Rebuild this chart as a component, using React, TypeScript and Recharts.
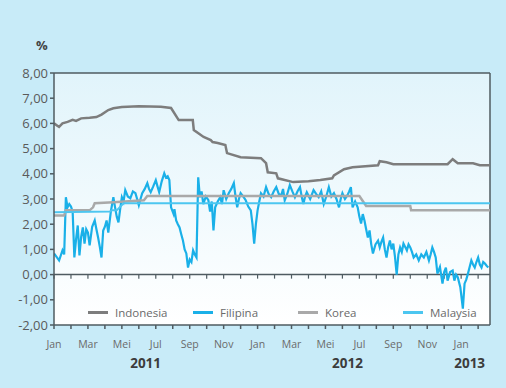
import { CartesianGrid, Legend, Line, LineChart, ReferenceLine, XAxis, YAxis } from "recharts";

// x = months since Jan 2011, y = rate in %
const indonesia: [number, number][] = [
  [0, 6.0], [0.3, 5.86], [0.5, 6.0], [0.8, 6.06], [1.1, 6.14], [1.3, 6.1], [1.6, 6.2], [2.1, 6.22],
  [2.5, 6.25], [2.8, 6.35], [3.2, 6.53], [3.5, 6.6], [4.0, 6.65], [5.0, 6.68], [6.3, 6.66], [6.9, 6.61],
  [7.35, 6.13], [8.18, 6.13], [8.24, 5.74], [8.82, 5.46], [9.24, 5.34], [9.35, 5.26], [9.65, 5.22],
  [10.1, 5.14], [10.2, 4.82], [11.0, 4.66], [12.2, 4.62], [12.5, 4.42], [12.6, 4.06], [13.1, 4.02],
  [13.2, 3.82], [14.1, 3.67], [15.0, 3.7], [15.7, 3.75], [16.4, 3.82], [16.5, 3.94], [17.1, 4.18],
  [17.6, 4.26], [19.1, 4.34], [19.2, 4.5], [19.6, 4.46], [20.0, 4.38], [23.2, 4.38], [23.5, 4.58],
  [23.8, 4.42], [24.7, 4.42], [25.1, 4.34], [25.7, 4.34],
];

const filipina: [number, number][] = [
  [0, 0.84], [0.15, 0.7], [0.3, 0.56], [0.5, 0.96], [0.6, 0.8], [0.7, 3.07], [0.8, 2.67], [0.9, 2.8],
  [1.0, 2.7], [1.1, 2.5], [1.2, 0.68], [1.3, 1.4], [1.4, 1.95], [1.5, 0.76], [1.6, 1.5], [1.7, 1.87],
  [1.8, 1.23], [1.9, 1.8], [2.0, 1.67], [2.1, 1.16], [2.25, 1.9], [2.4, 2.15], [2.5, 1.8], [2.6, 1.47],
  [2.7, 1.1], [2.8, 0.68], [2.9, 1.75], [3.0, 1.9], [3.1, 2.15], [3.2, 1.67], [3.35, 2.5], [3.5, 3.07],
  [3.6, 2.67], [3.7, 2.3], [3.8, 2.07], [3.9, 2.6], [4.0, 3.07], [4.1, 2.9], [4.2, 3.35], [4.35, 3.1],
  [4.5, 3.03], [4.65, 3.3], [4.8, 3.23], [4.9, 3.0], [5.0, 2.75], [5.1, 3.0], [5.2, 3.23], [5.35, 3.4],
  [5.5, 3.63], [5.6, 3.4], [5.7, 3.27], [5.85, 3.5], [6.0, 3.75], [6.1, 3.5], [6.2, 3.27], [6.35, 3.7],
  [6.5, 4.02], [6.6, 3.85], [6.7, 3.9], [6.8, 3.75], [6.9, 2.67], [7.05, 2.4], [7.1, 2.6], [7.2, 2.15],
  [7.3, 2.0], [7.4, 1.87], [7.5, 1.6], [7.6, 1.35], [7.7, 1.0], [7.8, 0.84], [7.9, 0.28], [8.0, 0.6],
  [8.1, 0.5], [8.2, 0.96], [8.3, 0.8], [8.4, 0.68], [8.5, 3.86], [8.6, 3.07], [8.7, 3.3], [8.8, 2.8],
  [8.95, 3.1], [9.1, 2.95], [9.2, 2.5], [9.3, 2.9], [9.4, 1.75], [9.5, 2.67], [9.65, 2.9], [9.8, 3.07],
  [9.9, 2.8], [10.0, 3.35], [10.15, 3.0], [10.3, 3.23], [10.45, 3.4], [10.6, 3.63], [10.7, 3.1],
  [10.8, 2.67], [10.9, 3.0], [11.0, 3.23], [11.15, 3.1], [11.3, 2.95], [11.45, 2.7], [11.6, 2.55],
  [11.7, 2.0], [11.8, 1.23], [11.9, 2.0], [12.0, 2.55], [12.1, 2.9], [12.2, 3.23], [12.35, 3.1],
  [12.5, 3.47], [12.65, 3.2], [12.8, 3.07], [12.95, 3.3], [13.1, 3.47], [13.25, 3.2], [13.4, 3.15],
  [13.5, 3.4], [13.6, 2.95], [13.75, 3.2], [13.9, 3.55], [14.05, 3.3], [14.2, 3.07], [14.35, 3.3],
  [14.5, 3.47], [14.6, 3.1], [14.7, 2.8], [14.8, 3.1], [14.9, 3.27], [15.1, 3.0], [15.3, 3.35],
  [15.45, 3.2], [15.6, 3.07], [15.75, 3.3], [15.9, 2.8], [16.05, 3.1], [16.2, 3.47], [16.35, 3.1],
  [16.5, 3.23], [16.65, 3.0], [16.8, 2.67], [16.9, 3.0], [17.0, 3.23], [17.15, 3.0], [17.3, 3.15],
  [17.4, 3.3], [17.5, 3.47], [17.6, 2.67], [17.75, 2.9], [17.9, 2.67], [18.0, 2.3], [18.1, 2.03],
  [18.2, 2.4], [18.3, 2.15], [18.4, 1.8], [18.5, 1.47], [18.6, 1.75], [18.7, 1.2], [18.8, 0.84],
  [18.95, 1.2], [19.1, 1.35], [19.2, 1.08], [19.3, 1.3], [19.4, 1.47], [19.5, 1.0], [19.6, 0.68],
  [19.7, 1.1], [19.8, 1.35], [19.9, 1.0], [20.0, 1.23], [20.1, 0.7], [20.2, 0.0], [20.3, 0.8],
  [20.4, 1.08], [20.5, 0.9], [20.6, 1.23], [20.7, 1.1], [20.8, 0.96], [20.9, 1.2], [21.0, 1.08],
  [21.1, 0.9], [21.2, 0.68], [21.35, 0.8], [21.5, 0.56], [21.65, 0.8], [21.8, 0.68], [21.95, 0.9],
  [22.1, 0.56], [22.2, 0.8], [22.3, 1.08], [22.4, 0.9], [22.5, 0.68], [22.6, 0.04], [22.75, 0.3],
  [22.9, -0.36], [23.0, 0.1], [23.1, 0.28], [23.2, -0.24], [23.35, 0.1], [23.5, 0.16], [23.6, -0.24],
  [23.7, 0.0], [23.8, -0.1], [23.95, -0.5], [24.1, -1.35], [24.2, -0.36], [24.3, -0.2], [24.4, 0.04],
  [24.5, 0.3], [24.6, 0.56], [24.7, 0.4], [24.8, 0.28], [24.9, 0.5], [25.0, 0.68], [25.1, 0.4],
  [25.2, 0.28], [25.3, 0.5], [25.4, 0.44], [25.5, 0.35], [25.6, 0.28],
];

const korea: [number, number][] = [
  [0, 2.35], [0.6, 2.35], [0.7, 2.55], [2.1, 2.55], [2.3, 2.67], [2.4, 2.83], [3.5, 2.87], [5.3, 2.95],
  [5.5, 3.12], [18.0, 3.12], [18.4, 2.72], [21.0, 2.72], [21.05, 2.55], [25.7, 2.55],
];

const malaysia: [number, number][] = [
  [0, 2.47], [3.3, 2.5], [3.4, 2.55], [3.7, 2.55], [4.1, 2.83], [25.7, 2.83],
];

const monthTicks = [0, 1, 2, 3, 4, 5, 6, 7, 8, 9, 10, 11, 12, 13, 14, 15, 16, 17, 18, 19, 20, 21, 22, 23, 24, 25];
const monthNames = ["Jan", "Feb", "Mar", "Apr", "Mei", "Jun", "Jul", "Agu", "Sep", "Okt", "Nov", "Des"];
const yearTicks = [5.4, 17.3, 24.5];
const yearLabels = ["2011", "2012", "2013"];
const yTicks = [-2, -1, 0, 1, 2, 3, 4, 5, 6, 7, 8];

const toRows = (pts: [number, number][]) => pts.map(([m, v]) => ({ m, v }));

const series = [
  { name: "Indonesia", data: indonesia, color: "#7d7d7d", width: 2.5 },
  { name: "Filipina", data: filipina, color: "#1ab0e8", width: 2.2 },
  { name: "Korea", data: korea, color: "#a9a9a9", width: 2.5 },
  { name: "Malaysia", data: malaysia, color: "#4cc6f0", width: 2 },
];

const FONT = "'Open Sans', 'DejaVu Sans', sans-serif";
const AXIS = "#4f5b61";

function LegendRow() {
  return (
    <div style={{ display: "flex", fontFamily: FONT, fontSize: 11.5, color: "#6a6a6a" }}>
      {series.map((s) => (
        <div key={s.name} style={{ width: 110, display: "flex", alignItems: "center" }}>
          <span style={{ display: "inline-block", width: 20, borderTop: `3px solid ${s.color}`, marginRight: 7 }} />
          <span>{s.name}</span>
        </div>
      ))}
    </div>
  );
}

export default function App() {
  return (
    <div style={{ position: "absolute", left: 0, top: 0, width: 506, height: 388, background: "#c8ebf8" }}>
      <svg width={0} height={0} style={{ position: "absolute" }}>
        <defs>
          <linearGradient id="plot-bg" x1="0" y1="0" x2="0" y2="1">
            <stop offset="0%" stopColor="#e1f4fb" />
            <stop offset="100%" stopColor="#ffffff" />
          </linearGradient>
        </defs>
      </svg>
      <div style={{ position: "absolute", left: 36, top: 36, fontFamily: FONT, fontSize: 13, fontWeight: 700, color: "#444" }}>%</div>
      <LineChart width={506} height={388} margin={{ top: 73, right: 16, bottom: 11, left: 0 }}>
        <CartesianGrid xAxisId="m" horizontal={false} vertical={false} fill="url(#plot-bg)" />
        <XAxis
          xAxisId="m"
          type="number"
          dataKey="m"
          domain={[0, 25.7]}
          ticks={monthTicks}
          interval={0}
          tickFormatter={(v: number) => (v % 2 === 0 ? monthNames[v % 12] : "")}
          stroke={AXIS}
          strokeWidth={1.5}
          tickSize={4}
          tickMargin={12}
          height={30}
          tick={{ fontSize: 10.5, fill: "#6a6a6a", fontFamily: FONT }}
          allowDataOverflow
        />
        <XAxis
          xAxisId="yr"
          type="number"
          dataKey="m"
          domain={[0, 25.7]}
          ticks={yearTicks}
          interval={0}
          tickFormatter={(v: number) => yearLabels[yearTicks.indexOf(v)] ?? ""}
          axisLine={false}
          tickLine={false}
          tickSize={0}
          tickMargin={3}
          height={22}
          tick={{ fontSize: 13.5, fontWeight: 700, fill: "#3c3c3c", fontFamily: FONT }}
          allowDataOverflow
        />
        <YAxis
          type="number"
          domain={[-2, 8]}
          ticks={yTicks}
          interval={0}
          width={54}
          tickFormatter={(v: number) => v.toFixed(2).replace(".", ",")}
          stroke={AXIS}
          strokeWidth={1.5}
          tickSize={4}
          tick={{ fontSize: 13, fill: "#5a5a5a", fontFamily: FONT }}
        />
        <ReferenceLine xAxisId="m" y={8} stroke={AXIS} strokeWidth={1.5} />
        <ReferenceLine xAxisId="m" x={25.7} stroke={AXIS} strokeWidth={1.5} />
        <ReferenceLine xAxisId="m" y={0} stroke={AXIS} strokeWidth={1.5} />
        {monthTicks.map((t) => (
          <ReferenceLine
            key={t}
            xAxisId="m"
            segment={[{ x: t, y: 0 }, { x: t, y: -0.16 }]}
            stroke={AXIS}
            strokeWidth={1.2}
          />
        ))}
        {/* invisible carrier so the year axis gets a domain */}
        <Line
          xAxisId="yr"
          data={toRows(malaysia)}
          dataKey="v"
          stroke="transparent"
          dot={false}
          activeDot={false}
          legendType="none"
          isAnimationActive={false}
        />
        {series.map((s) => (
          <Line
            key={s.name}
            xAxisId="m"
            data={toRows(s.data)}
            dataKey="v"
            name={s.name}
            type="linear"
            stroke={s.color}
            strokeWidth={s.width}
            dot={false}
            isAnimationActive={false}
          />
        ))}
        <Legend
          verticalAlign="middle"
          align="center"
          content={() => <LegendRow />}
          wrapperStyle={{ left: 88, top: 305, width: 420, height: 16 }}
        />
      </LineChart>
    </div>
  );
}
